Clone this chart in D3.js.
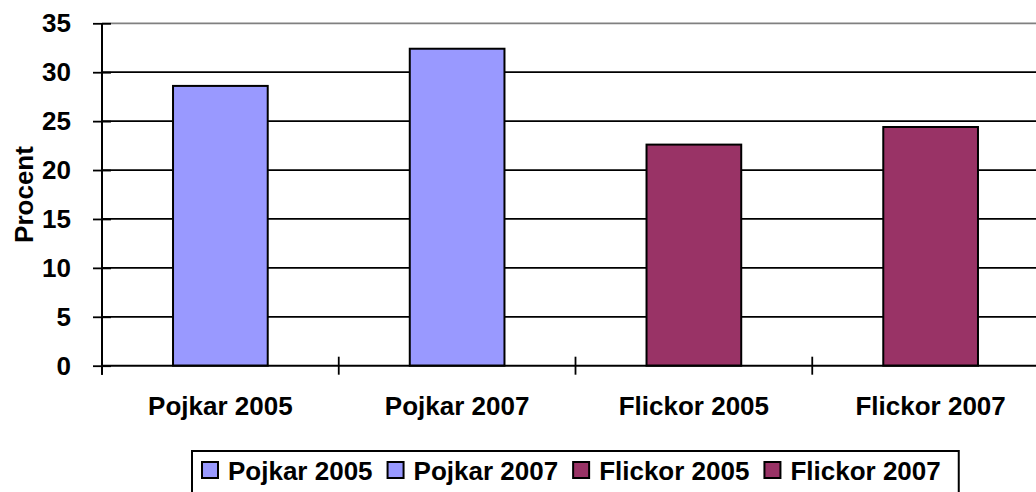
<!DOCTYPE html>
<html>
<head>
<meta charset="utf-8">
<script src="https://cdn.jsdelivr.net/npm/d3@7"></script>
<style>
  body { margin: 0; background: #fff; }
  svg { display: block; font-family: "Liberation Sans", Arial, sans-serif; font-weight: bold; }
</style>
</head>
<body>
<div id="chart"></div>
<script>
// chart data
const categories = ["Pojkar 2005", "Pojkar 2007", "Flickor 2005", "Flickor 2007"];
const values = [28.6, 32.4, 22.6, 24.4];
const colors = ["#9999FF", "#9999FF", "#993366", "#993366"];
const yTicks = [0, 5, 10, 15, 20, 25, 30, 35];
const yLabel = "Procent";

const width = 1036, height = 492;
const plot = {left: 102, top: 23.3, right: 1049, bottom: 365.7};
const fontSize = 26;

let svg = d3.select("#chart")
    .append("svg")
    .attr("width", width)
    .attr("height", height);

let y = d3.scaleLinear()
    .domain([0, 35])
    .range([plot.bottom, plot.top]);

// one slot per category, bars take 40% of the slot
let xCat = d3.scaleBand()
    .domain(categories)
    .range([plot.left, plot.right])
    .padding(0);

let xBar = d3.scaleBand()
    .domain(categories)
    .range([plot.left, plot.right])
    .paddingInner(0.6)
    .paddingOuter(0.3);

// gridlines
svg.append("g")
    .selectAll("line")
    .data(yTicks.filter(d => d > 0))
    .enter()
    .append("line")
    .attr("x1", plot.left)
    .attr("x2", plot.right)
    .attr("y1", d => y(d))
    .attr("y2", d => y(d))
    .attr("stroke", d => d === 35 ? "#808080" : "#000")
    .attr("stroke-width", 1.8);

// bars
svg.append("g")
    .selectAll("rect")
    .data(values)
    .enter()
    .append("rect")
    .attr("x", (d, i) => xBar(categories[i]))
    .attr("y", d => y(d))
    .attr("width", xBar.bandwidth())
    .attr("height", d => y(0) - y(d))
    .attr("fill", (d, i) => colors[i])
    .attr("stroke", "#000")
    .attr("stroke-width", 2);

// y axis with crossing ticks
let yAxis = svg.append("g")
    .attr("transform", `translate(${plot.left}, 0)`)
    .call(d3.axisLeft(y).tickValues(yTicks).tickSize(9).tickPadding(22));
yAxis.select(".domain").attr("stroke", "#000").attr("stroke-width", 2)
    .attr("d", `M0,${plot.top}V${plot.bottom + 9}`);
yAxis.selectAll(".tick line").attr("x1", 9).attr("x2", -9).attr("stroke-width", 1.8);
yAxis.selectAll(".tick text")
    .attr("font-size", fontSize)
    .attr("font-family", "Liberation Sans, Arial, sans-serif")
    .attr("font-weight", "bold")
    .attr("fill", "#000");

// x axis with crossing ticks on category boundaries
let xAxis = svg.append("g")
    .attr("transform", `translate(0, ${plot.bottom})`);
xAxis.append("line")
    .attr("x1", plot.left).attr("x2", plot.right)
    .attr("stroke", "#000").attr("stroke-width", 2);
xAxis.selectAll(".xtick")
    .data(categories)
    .enter()
    .append("line")
    .attr("class", "xtick")
    .attr("x1", d => xCat(d))
    .attr("x2", d => xCat(d))
    .attr("y1", -9)
    .attr("y2", 9)
    .attr("stroke", "#000")
    .attr("stroke-width", 1.8);
xAxis.selectAll(".xlabel")
    .data(categories)
    .enter()
    .append("text")
    .attr("class", "xlabel")
    .attr("x", d => xCat(d) + xCat.bandwidth() / 2)
    .attr("y", 49)
    .attr("text-anchor", "middle")
    .attr("font-size", fontSize)
    .text(d => d);

// y axis title
svg.append("text")
    .attr("transform", `translate(33, ${(plot.top + plot.bottom) / 2}) rotate(-90)`)
    .attr("text-anchor", "middle")
    .attr("font-size", fontSize)
    .text(yLabel);

// legend
let legend = svg.append("g");
let legendItems = legend.selectAll("g")
    .data(categories)
    .enter()
    .append("g");
legendItems.append("text")
    .attr("font-size", fontSize)
    .attr("y", 480)
    .text(d => d);

let lx = 202;
legendItems.each(function(d, i) {
    let g = d3.select(this);
    let w = g.select("text").node().getComputedTextLength();
    g.insert("rect", "text")
        .attr("x", lx)
        .attr("y", 462)
        .attr("width", 16)
        .attr("height", 16)
        .attr("fill", colors[i])
        .attr("stroke", "#000")
        .attr("stroke-width", 2);
    g.select("text").attr("x", lx + 26);
    lx += 26 + w + 15;
});

legend.insert("rect", "g")
    .attr("x", 192)
    .attr("y", 451)
    .attr("width", lx - 15 + 18 - 192)
    .attr("height", 60)
    .attr("fill", "#fff")
    .attr("stroke", "#000")
    .attr("stroke-width", 2);
</script>
</body>
</html>
